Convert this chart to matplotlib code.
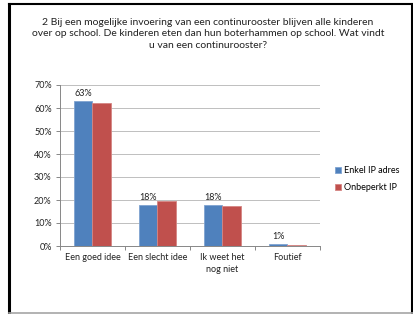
import matplotlib
matplotlib.use("Agg")
import matplotlib.pyplot as plt
import numpy as np
from matplotlib.lines import Line2D

plt.rcParams['font.family'] = ['Lato', 'DejaVu Sans']

categories = ["Een goed idee", "Een slecht idee", "Ik weet het\nnog niet", "Foutief"]
enkel_ip = [63, 18, 18, 1]
onbeperkt_ip = [62, 19.4, 17.6, 0.5]
labels = ["63%", "18%", "18%", "1%"]
series_names = ["Enkel IP adres", "Onbeperkt IP"]
title = ("2 Bij een mogelijke invoering van een continurooster blijven alle kinderen\n"
         "over op school. De kinderen eten dan hun boterhammen op school. Wat vindt\n"
         "u van een continurooster?")

W, H = 414, 314
fig = plt.figure(figsize=(W/100, H/100), dpi=100)
fig.patch.set_facecolor('white')

# plot area in pixels: x 60..320, y 85..246
ax = fig.add_axes([60/W, 1-246/H, 260/W, 161/H])

blue, red = '#4F81BD', '#C0504D'
x = np.arange(len(categories))
bw = 0.29
ax.bar(x - bw/2, enkel_ip, bw, color=blue, edgecolor='#7FA3D0', linewidth=0.6, zorder=3, label=series_names[0])
ax.bar(x + bw/2, onbeperkt_ip, bw, color=red, edgecolor='#D58583', linewidth=0.6, zorder=3, label=series_names[1])

for xi, v, lab in zip(x, enkel_ip, labels):
    ax.text(xi - bw/2, v + 1.2, lab, ha='center', va='bottom', fontsize=6.5, color='#222222')

ax.set_xlim(-0.5, len(categories) - 0.5)
ax.set_ylim(0, 70)
ax.set_yticks(np.arange(0, 71, 10))
ax.set_yticklabels([f"{t}%" for t in range(0, 71, 10)], fontsize=6.5, color='#222222')
ax.yaxis.grid(True, color='#BFBFBF', linewidth=0.7, zorder=0)
ax.set_xticks(x)
ax.set_xticklabels(categories, fontsize=6.5, color='#222222', linespacing=1.5)
ax.set_xticks(np.arange(-0.5, len(categories)), minor=True)
ax.tick_params(axis='x', which='major', length=0, pad=5)
ax.tick_params(axis='x', which='minor', length=3, color='#878787', width=0.7)
ax.tick_params(axis='y', length=3, color='#878787', width=0.7, pad=3)
for s in ['top', 'right']:
    ax.spines[s].set_visible(False)
for s in ['left', 'bottom']:
    ax.spines[s].set_color('#878787')
    ax.spines[s].set_linewidth(0.7)

ax.legend(loc='center left', bbox_to_anchor=(330/W, 1-179/H), bbox_transform=fig.transFigure,
          frameon=False, fontsize=6.5, handlelength=0.7, handleheight=0.7,
          handletextpad=0.3, labelspacing=0.9, borderpad=0)

fig.text(208/W, 1-34/H, title, ha='center', va='center', fontsize=7.5,
         color='#222222', linespacing=1.3)

# slide frame
fig.add_artist(Line2D([8.5/W, 8.5/W], [1-3.5/H, 1-312/H], color='black', lw=2.2, transform=fig.transFigure))
fig.add_artist(Line2D([8.5/W, 413/W], [1-3.5/H, 1-3.5/H], color='black', lw=1.5, transform=fig.transFigure))
fig.add_artist(Line2D([412.5/W, 412.5/W], [1-3.5/H, 1-312/H], color='black', lw=2.2, transform=fig.transFigure))
fig.add_artist(Line2D([8.5/W, 413/W], [1-312.5/H, 1-312.5/H], color='#A6A6A6', lw=1.2, transform=fig.transFigure))

fig.savefig("out.png", dpi=100)
